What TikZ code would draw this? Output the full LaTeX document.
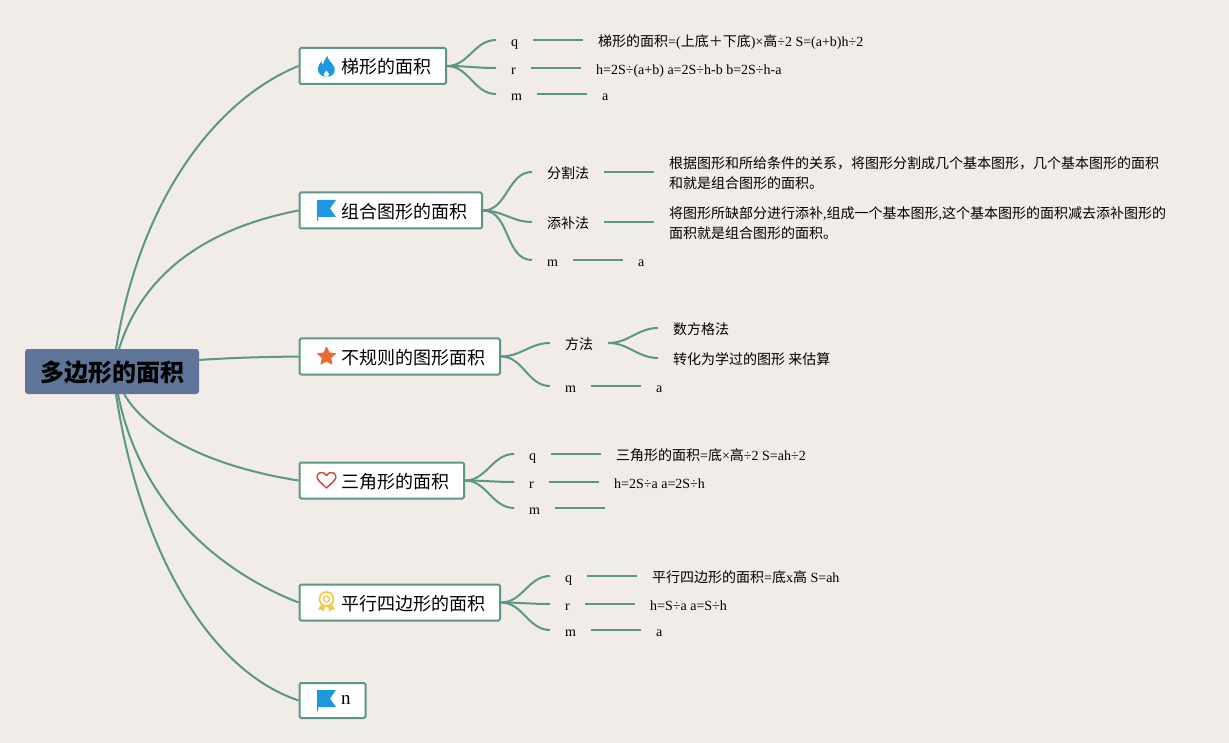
\documentclass[tikz,border=0pt]{standalone}
\usepackage{fontspec}
\setmainfont{Liberation Serif}
\newfontfamily\cjk{Noto Sans CJK SC}
\usetikzlibrary{shapes.geometric}
\newcommand\C[1]{{\cjk #1}}
\definecolor{bgc}{HTML}{F1ECE7}
\definecolor{linec}{HTML}{5C9686}
\definecolor{rootc}{HTML}{5F7499}
\definecolor{blueic}{HTML}{1C98E0}
\definecolor{orangeic}{HTML}{E86A35}
\definecolor{redic}{HTML}{CC4A3F}
\definecolor{yellowic}{HTML}{F5C842}
\tikzset{
  x=1pt,y=-1pt,
  conn/.style={draw=linec,line width=2pt},
  rootbox/.style={fill=rootc,rounded corners=3pt,minimum width=174pt,minimum height=45pt,inner sep=0pt,text height=20pt,text depth=0pt,font=\fontsize{24}{28}\selectfont\bfseries\cjk},
  branch/.style={draw=linec,fill=white,line width=2pt,rounded corners=1.5pt,anchor=west,minimum height=36pt,inner ysep=0pt,inner xsep=15pt,text height=16pt,text depth=0pt,font=\fontsize{18}{22}\selectfont},
  lab/.style={anchor=west,inner xsep=15pt,inner ysep=0pt,text height=14pt,text depth=1pt,font=\fontsize{14}{20}\selectfont},
  detail/.style={anchor=west,inner xsep=15pt,inner ysep=0pt,align=left,font=\fontsize{14}{20}\selectfont},
}
\newcommand\Ic{\hspace{26.5pt}}
\newcommand\Tl{\hspace{1pt}}
\begin{document}
\begin{tikzpicture}
\fill[bgc] (0,0) rectangle (1229,743);
\useasboundingbox (0,0) rectangle (1229,743);
% root and branches
\node[rootbox] (root) at (112,371.5) {多边形的面积};
\node[branch] (b1) at (298.5,66) {\Ic\C{梯形的面积}\Tl};
\node[branch] (b2) at (298.5,210.5) {\Ic\C{组合图形的面积}\Tl};
\node[branch] (b3) at (298.5,356.5) {\Ic\C{不规则的图形面积}\Tl};
\node[branch] (b4) at (298.5,480.5) {\Ic\C{三角形的面积}\Tl};
\node[branch] (b5) at (298.5,602.5) {\Ic\C{平行四边形的面积}\Tl};
\node[branch,minimum height=35pt,text height=9pt,text depth=2pt,font=\fontsize{19}{22}\selectfont] (b6) at (298.5,700.5) {\Ic n};
\coordinate (ra) at (116,349);
\coordinate (rb) at (119,349);
\coordinate (rc) at (199,360);
\coordinate (rd) at (124,394);
\coordinate (re) at (118,394);
\coordinate (rf) at (116,394);
\draw[conn] (ra) .. controls (140,200) and (215,100) .. (b1.west);
\draw[conn] (rb) .. controls (143,272) and (208,228) .. (b2.west);
\draw[conn] (rc) .. controls (235,357.5) and (265,357) .. (b3.west);
\draw[conn] (rd) .. controls (150,438) and (218,468) .. (b4.west);
\draw[conn] (re) .. controls (138,495) and (208,567) .. (b5.west);
\draw[conn] (rf) .. controls (138,540) and (203,668) .. (b6.west);
% branch 1
\node[lab] (q1) at (496,40) {q};
\node[lab] (r1) at (496,68) {r};
\node[lab] (m1) at (496,94) {m};
\node[lab] (q1t) at (583,40) {\C{梯形的面积}=(\C{上底＋下底})×\C{高}÷2 S=(a+b)h÷2};
\node[lab] (r1t) at (581,68) {h=2S÷(a+b) a=2S÷h-b b=2S÷h-a};
\node[lab] (m1t) at (587,94) {a};
% branch 2
\node[lab] (q2) at (532,172) {\C{分割法}};
\node[lab] (r2) at (532,222) {\C{添补法}};
\node[lab] (m2) at (532,260) {m};
\node[detail] (q2t) at (654,173.5) {\C{根据图形和所给条件的关系，将图形分割成几个基本图形，几个基本图形的面积}\\\C{和就是组合图形的面积。}};
\node[detail] (r2t) at (654,223.5) {\C{将图形所缺部分进行添补},\C{组成一个基本图形},\C{这个基本图形的面积减去添补图形的}\\\C{面积就是组合图形的面积。}};
\node[lab] (m2t) at (623,260) {a};
% branch 3
\node[lab] (q3) at (550,343) {\C{方法}};
\node[lab] (m3) at (550,386) {m};
\node[lab] (s1) at (658,328) {\C{数方格法}};
\node[lab] (s2) at (658,358) {\C{转化为学过的图形 来估算}};
\node[lab] (m3t) at (641,386) {a};
% branch 4
\node[lab] (q4) at (514,454) {q};
\node[lab] (r4) at (514,482) {r};
\node[lab] (m4) at (514,508) {m};
\node[lab] (q4t) at (601,454) {\C{三角形的面积}=\C{底}×\C{高}÷2 S=ah÷2};
\node[lab] (r4t) at (599,482) {h=2S÷a a=2S÷h};
\coordinate (m4t) at (605,508);
% branch 5
\node[lab] (q5) at (550,576) {q};
\node[lab] (r5) at (550,604) {r};
\node[lab] (m5) at (550,630) {m};
\node[lab] (q5t) at (637,576) {\C{平行四边形的面积}=\C{底}x\C{高} S=ah};
\node[lab] (r5t) at (635,604) {h=S÷a a=S÷h};
\node[lab] (m5t) at (641,630) {a};
% forks
\foreach \p/\k in {b1/q1,b1/r1,b1/m1,b2/q2,b2/r2,b2/m2,b3/q3,b3/m3,q3/s1,q3/s2,b4/q4,b4/r4,b4/m4,b5/q5,b5/r5,b5/m5}
  \draw[conn] (\p.east) to[out=0,in=180] (\k.west);
% straight links
\foreach \a/\b in {q1/q1t,r1/r1t,m1/m1t,q2/q2t,r2/r2t,m2/m2t,m3/m3t,q4/q4t,r4/r4t,q5/q5t,r5/r5t,m5/m5t}
  \draw[conn] (\a.east) -- (\a.east -| \b.west);
\draw[conn] (m4.east) -- (m4t);
% icons
\fill[blueic] (326.5,76.8) .. controls (321,76.8) and (317.8,73) .. (317.8,69) .. controls (317.8,65.5) and (320,63.5) .. (321.5,61.5) .. controls (321.8,63) and (322,64) .. (322.8,65) .. controls (323.5,62) and (325,59) .. (327.5,56) .. controls (328,60) and (331,62) .. (333,65) .. controls (335.3,68) and (335.3,72) .. (333,74.5) .. controls (331.5,76.2) and (329,76.8) .. (326.5,76.8) -- cycle;
\fill[white] (326.5,76.8) .. controls (324.2,76.8) and (323.4,75) .. (324.2,73.5) .. controls (325,72.3) and (326,71.5) .. (326.5,70.5) .. controls (327.2,71.5) and (328.6,72.5) .. (328.9,74) .. controls (329.1,75.6) and (328,76.8) .. (326.5,76.8) -- cycle;
\fill[blueic] (317,200) -- (336,200) -- (330,208.5) -- (336,217) -- (318,217) -- (318,221) -- (317,221) -- cycle;
\node[star,star points=5,star point ratio=2.1,fill=orangeic,draw=orangeic,line width=0.8pt,line join=round,minimum size=19pt,inner sep=0pt] (staric) at (326.5,356.5) {};
\draw[redic,line width=1.5pt,line join=round] (326.5,488) -- (319,481) .. controls (315,476.5) and (318,472.5) .. (321.5,472.5) .. controls (323.5,472.5) and (325.5,473.5) .. (326.5,475.5) .. controls (327.5,473.5) and (329.5,472.5) .. (331.5,472.5) .. controls (335,472.5) and (338,476.5) .. (334,481) -- cycle;
\fill[yellowic] (321,604.5) -- (325,607) -- (323.5,612) -- (321.5,609.5) -- (318,609.5) -- cycle;
\fill[yellowic] (332,604.5) -- (328,607) -- (329.5,612) -- (331.5,609.5) -- (335,609.5) -- cycle;
\draw[yellowic,fill=white,line width=1.7pt] (326.5,599) circle[radius=7pt];
\draw[yellowic,line width=1.4pt] (326.5,599) circle[radius=3pt];
\fill[blueic] (317,690) -- (336,690) -- (330,698.5) -- (336,707) -- (318,707) -- (318,711) -- (317,711) -- cycle;
\end{tikzpicture}
\end{document}
